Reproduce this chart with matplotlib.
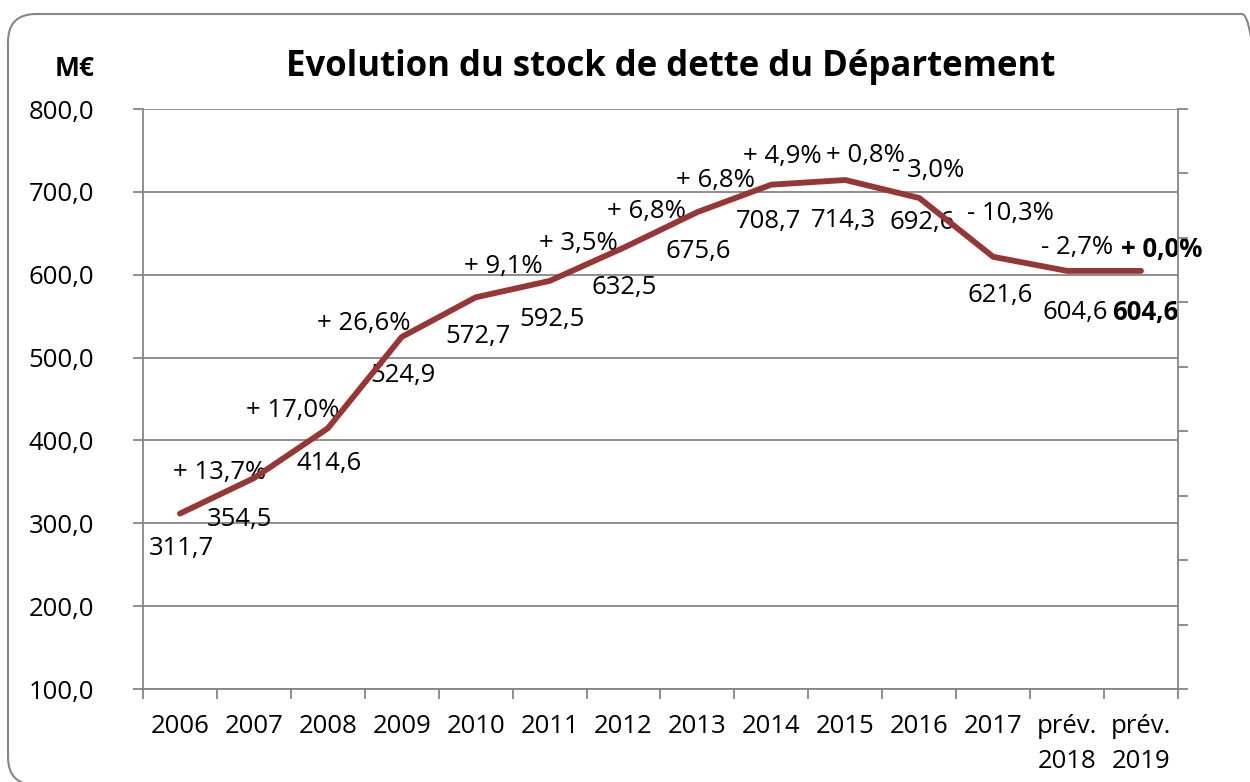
import matplotlib
matplotlib.use("Agg")
import matplotlib.pyplot as plt
from matplotlib.patches import FancyBboxPatch

plt.rcParams['font.family'] = ['Open Sans', 'DejaVu Sans']

# Données
annees = ['2006', '2007', '2008', '2009', '2010', '2011', '2012', '2013',
          '2014', '2015', '2016', '2017', 'prév.\n2018', 'prév.\n2019']
stock = [311.7, 354.5, 414.6, 524.9, 572.7, 592.5, 632.5, 675.6,
         708.7, 714.3, 692.6, 621.6, 604.6, 604.6]
evolution = ['', '+ 13,7%', '+ 17,0%', '+ 26,6%', '+ 9,1%', '+ 3,5%', '+ 6,8%',
             '+ 6,8%', '+ 4,9%', '+ 0,8%', '- 3,0%', '- 10,3%', '- 2,7%', '+ 0,0%']

# décalages des étiquettes (pixels) : valeur / évolution
off_val = [(1, -35), (-14, -41), (1, -35), (1, -39), (2, -39), (2, -39), (1, -40),
           (1, -39), (-3, -37), (-2, -40), (3, -25), (7, -39), (8, -42), (4, -42)]
off_pct = [(0, 0), (-34, 6), (-35, 18), (-38, 13), (28, 31), (29, 37), (23, 36),
           (18, 32), (11, 28), (20, 25), (9, 27), (17, 43), (10, 23), (21, 21)]

couleur = '#953735'
gris = '#868686'
taille = 18.5

fig = plt.figure(figsize=(12.5, 7.82), dpi=100, facecolor='white')

# cadre arrondi (en pouces)
cadre = FancyBboxPatch((0.08, -0.03), 12.62, 7.71,
                       boxstyle='round,pad=0,rounding_size=0.28',
                       transform=fig.dpi_scale_trans, facecolor='none',
                       edgecolor=gris, linewidth=1.5, zorder=-1)
fig.patches.append(cadre)

ax = fig.add_axes([143 / 1250, 1 - 689 / 782, (1178 - 143) / 1250, (689 - 109) / 782])
ax.set_facecolor('none')

x = list(range(len(annees)))
ax.plot(x, stock, color=couleur, linewidth=4.2, solid_capstyle='round',
        solid_joinstyle='round', zorder=5)

for i, v in enumerate(stock):
    gras = 'bold' if i == len(stock) - 1 else 'normal'
    ax.annotate(f'{v:.1f}'.replace('.', ','), (i, v), xytext=off_val[i],
                textcoords='offset pixels', ha='center', va='center',
                fontsize=taille, fontweight=gras, zorder=3)
    if evolution[i]:
        ax.annotate(evolution[i], (i, v), xytext=off_pct[i],
                    textcoords='offset pixels', ha='center', va='center',
                    fontsize=taille, fontweight=gras, zorder=3)

ax.set_xlim(-0.5, len(annees) - 0.5)
ax.set_ylim(100, 800)
ax.set_yticks(range(100, 801, 100))
ax.set_yticklabels([f'{v},0' for v in range(100, 801, 100)], fontsize=taille)
ax.yaxis.grid(True, color=gris, linewidth=1.3)
ax.set_axisbelow(True)

ax.set_xticks([i - 0.5 for i in range(len(annees) + 1)])
ax.set_xticklabels([])
ax.set_xticks(x, minor=True)
ax.set_xticklabels(annees, minor=True, fontsize=taille, va='top', linespacing=1.55)
ax.tick_params(axis='x', which='major', direction='out', length=7, color=gris, width=1.3)
ax.tick_params(axis='x', which='minor', length=0, pad=18)
ax.tick_params(axis='y', direction='out', length=7, color=gris, width=1.3, pad=28)

for s in ['top', 'right']:
    ax.spines[s].set_visible(False)
for s in ['left', 'bottom']:
    ax.spines[s].set_color(gris)
    ax.spines[s].set_linewidth(1.3)

# axe secondaire (sans étiquettes)
ax2 = ax.twinx()
ax2.set_ylim(0, 9)
ax2.set_yticks(range(10))
ax2.set_yticklabels([])
ax2.tick_params(axis='y', direction='out', length=7, color=gris, width=1.3)
for s in ['top', 'left', 'bottom']:
    ax2.spines[s].set_visible(False)
ax2.spines['right'].set_color(gris)
ax2.spines['right'].set_linewidth(1.3)

fig.text(671 / 1250, 1 - 67 / 782, 'Evolution du stock de dette du Département',
         ha='center', va='center', fontsize=25, fontweight='bold')
fig.text(95 / 1250, 1 - 68 / 782, 'M€', ha='right', va='center',
         fontsize=19, fontweight='bold')

fig.savefig('out.png', dpi=100)
